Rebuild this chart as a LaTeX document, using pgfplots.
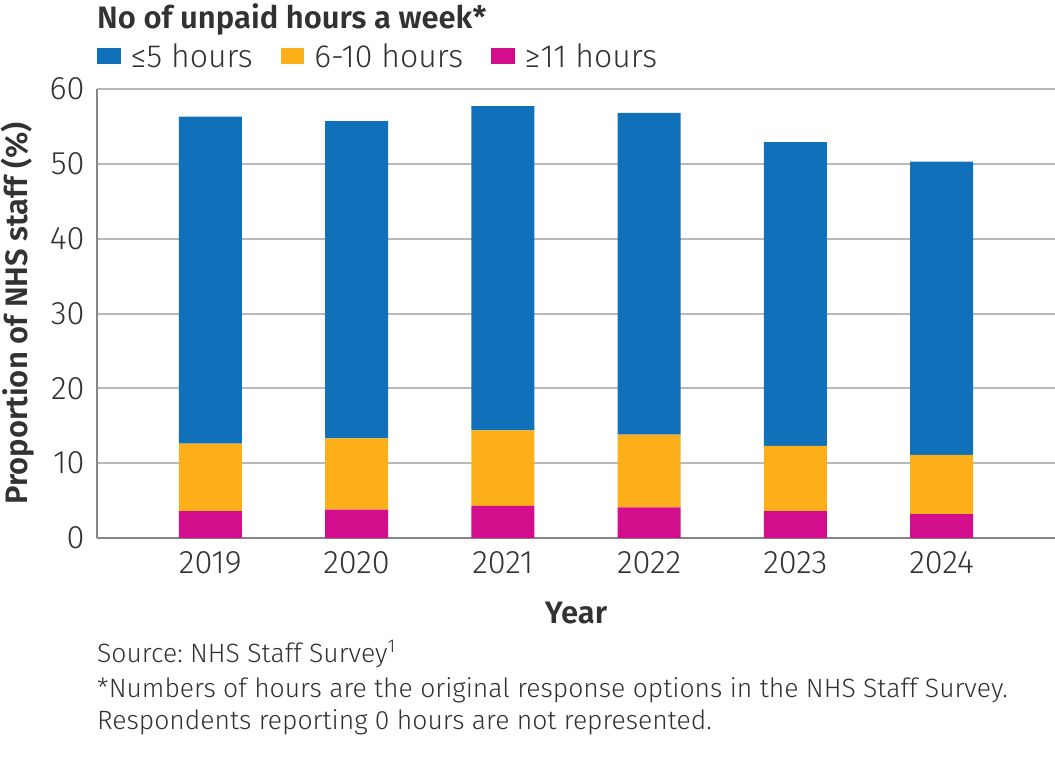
\documentclass[border=0pt]{standalone}
\usepackage{pgfplots}
\pgfplotsset{compat=1.18}
\usepackage{fontspec}
\setmainfont{Fira Sans}[UprightFont=* Light, BoldFont=* SemiBold]
\frenchspacing
\definecolor{cblue}{RGB}{17,112,186}
\definecolor{corange}{RGB}{252,175,24}
\definecolor{cmag}{RGB}{210,14,140}
\definecolor{ctext}{RGB}{50,50,50}
\definecolor{cgrid}{RGB}{185,185,185}
\definecolor{caxis}{RGB}{135,135,135}
\begin{document}
\begin{tikzpicture}
\useasboundingbox (0pt,0pt) rectangle (1055pt,-769pt);
\begin{axis}[
  at={(97pt,-538pt)}, anchor=south west,
  scale only axis, width=958pt, height=449pt,
  ybar stacked, bar width=63pt,
  xmin=-0.775, xmax=5.775, ymin=0, ymax=60,
  xtick={0,1,2,3,4,5},
  xticklabels={2019,2020,2021,2022,2023,2024},
  ytick={0,10,20,30,40,50,60},
  major tick length=0pt,
  axis x line=bottom, axis y line=left,
  axis line style={-, caxis, line width=1.8pt},
  x axis line style={line width=2.5pt},
  ymajorgrids, grid style={cgrid, line width=2pt},
  /pgf/number format/assume math mode=true,
  tick label style={font=\fontsize{32.5}{38}\selectfont, text=ctext},
  yticklabel style={xshift=-9pt},
  xticklabel style={anchor=base, yshift=-35pt},
  xlabel={Year},
  xlabel style={font=\bfseries\fontsize{31}{36}\selectfont, text=ctext, at={(axis description cs:0.5,0)}, anchor=base, yshift=-85pt},
  ylabel={Proportion of NHS staff (\%)},
  ylabel style={font=\bfseries\fontsize{31}{36}\selectfont, text=ctext, at={(axis description cs:-0.0825,0.5)}, anchor=center},
  reverse legend,
  legend style={at={(axis description cs:0,1)}, anchor=west, yshift=33pt, draw=none, fill=none, inner sep=0pt,
    font=\fontsize{32}{37}\selectfont, text=ctext,
    nodes={inner sep=0pt},
    /tikz/every odd column/.append style={column sep=10pt},
    /tikz/every even column/.append style={column sep=28pt}},
  legend columns=-1,
  legend image code/.code={\fill[#1] (0pt,-8.25pt) rectangle (23.5pt,8.25pt);},
  clip=false,
]
\addplot[fill=cmag, draw=none] coordinates {(0,3.6) (1,3.8) (2,4.3) (3,4.1) (4,3.6) (5,3.2)};
\addlegendentry{≥11 hours}
\addplot[fill=corange, draw=none] coordinates {(0,9.0) (1,9.5) (2,10.1) (3,9.7) (4,8.7) (5,7.9)};
\addlegendentry{6-10 hours}
\addplot[fill=cblue, draw=none] coordinates {(0,43.7) (1,42.4) (2,43.3) (3,43.0) (4,40.6) (5,39.2)};
\addlegendentry{≤5 hours}
\end{axis}
\node[anchor=base west, inner sep=0pt, text=ctext, font=\bfseries\fontsize{31}{36}\selectfont] at (97pt,-28pt) {No of unpaid hours a week*};
\node[anchor=base west, inner sep=0pt, text=ctext, font=\fontsize{26.5}{31}\selectfont] at (97pt,-662pt) {Source: NHS Staff Survey\textsuperscript{1}};
\node[anchor=base west, inner sep=0pt, text=ctext, font=\fontsize{26.5}{31}\selectfont] at (97pt,-697pt) {*Numbers of hours are the original response options in the NHS Staff Survey.};
\node[anchor=base west, inner sep=0pt, text=ctext, font=\fontsize{26.5}{31}\selectfont] at (97pt,-729pt) {Respondents reporting 0 hours are not represented.};
\end{tikzpicture}
\end{document}
